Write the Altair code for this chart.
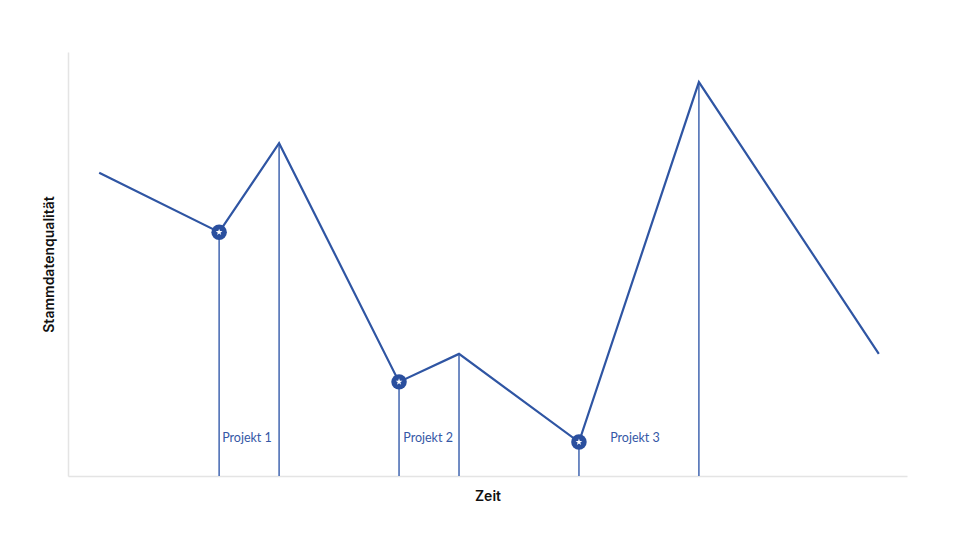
import altair as alt
import pandas as pd

# Line data (time index, quality value)
t_vals = [1, 3, 4, 6, 7, 9, 11, 14]
q_vals = [71.5, 57.5, 78.5, 22.2, 28.8, 8.0, 92.9, 28.8]

# Vertical drop lines
drop_t = [3, 4, 6, 7, 9, 11]
drop_q = [57.5, 78.5, 22.2, 28.8, 8.0, 92.9]

# Project start markers
marker_t = [3, 6, 9]
marker_q = [57.5, 22.2, 8.0]

# Project labels
label_text = ["Projekt 1", "Projekt 2", "Projekt 3"]
label_t = [3.05, 6.07, 9.52]
label_q = [9.0, 9.0, 9.0]

BLUE = "#2f55a3"

line_df = pd.DataFrame({"t": t_vals, "q": q_vals})
drop_df = pd.DataFrame({"t": drop_t, "q": drop_q, "q0": [0] * len(drop_t)})
marker_df = pd.DataFrame({"t": marker_t, "q": marker_q})
label_df = pd.DataFrame({"t": label_t, "q": label_q, "label": label_text})

xscale = alt.Scale(domain=[0.48, 14.47], nice=False, zero=False)
yscale = alt.Scale(domain=[0, 100], nice=False)

xaxis = alt.Axis(title="Zeit", labels=False, ticks=False, grid=False,
                 domainColor="#e4e4e4", domainWidth=1.5, titlePadding=13,
                 titleFontSize=14, titleFontWeight=600, titleColor="#111111",
                 titleFont="Inter")
yaxis = alt.Axis(title="Stammdatenqualität", labels=False, ticks=False, grid=False,
                 domainColor="#e4e4e4", domainWidth=1.5, titlePadding=12,
                 titleFontSize=14, titleFontWeight=600, titleColor="#111111",
                 titleFont="Inter")

base_x = alt.X("t:Q", scale=xscale, axis=xaxis)
base_y = alt.Y("q:Q", scale=yscale, axis=yaxis)

drops = alt.Chart(drop_df).mark_rule(color="#4266b0", strokeWidth=1.5).encode(
    x=alt.X("t:Q", scale=xscale, axis=xaxis),
    y=alt.Y("q:Q", scale=yscale, axis=yaxis),
    y2="q0:Q",
)

line = alt.Chart(line_df).mark_line(color=BLUE, strokeWidth=2.2).encode(
    x=base_x, y=base_y
)

circles = alt.Chart(marker_df).mark_point(
    shape="circle", filled=True, color="#2a4f9e", size=240, opacity=1
).encode(x=base_x, y=base_y)

stars = alt.Chart(marker_df).mark_point(
    shape="M0,-1L0.235,-0.324L0.951,-0.309L0.38,0.124L0.588,0.809L0,0.4L-0.588,0.809L-0.38,0.124L-0.951,-0.309L-0.235,-0.324Z",
    filled=True, color="white", size=50, opacity=1
).encode(x=base_x, y=base_y)

labels = alt.Chart(label_df).mark_text(
    align="left", baseline="middle", fontSize=12.5, color="#3558a6", font="Lato"
).encode(x=base_x, y=base_y, text="label:N")

chart = (drops + line + circles + stars + labels).properties(
    width=839,
    height=424,
    background="white",
    autosize=alt.AutoSizeParams(type="none"),
    padding={"left": 60, "top": 44, "right": 45, "bottom": 44},
).configure_view(strokeWidth=0, stroke="transparent")

chart.save("out.html", embed_options={"renderer": "svg", "actions": False})
